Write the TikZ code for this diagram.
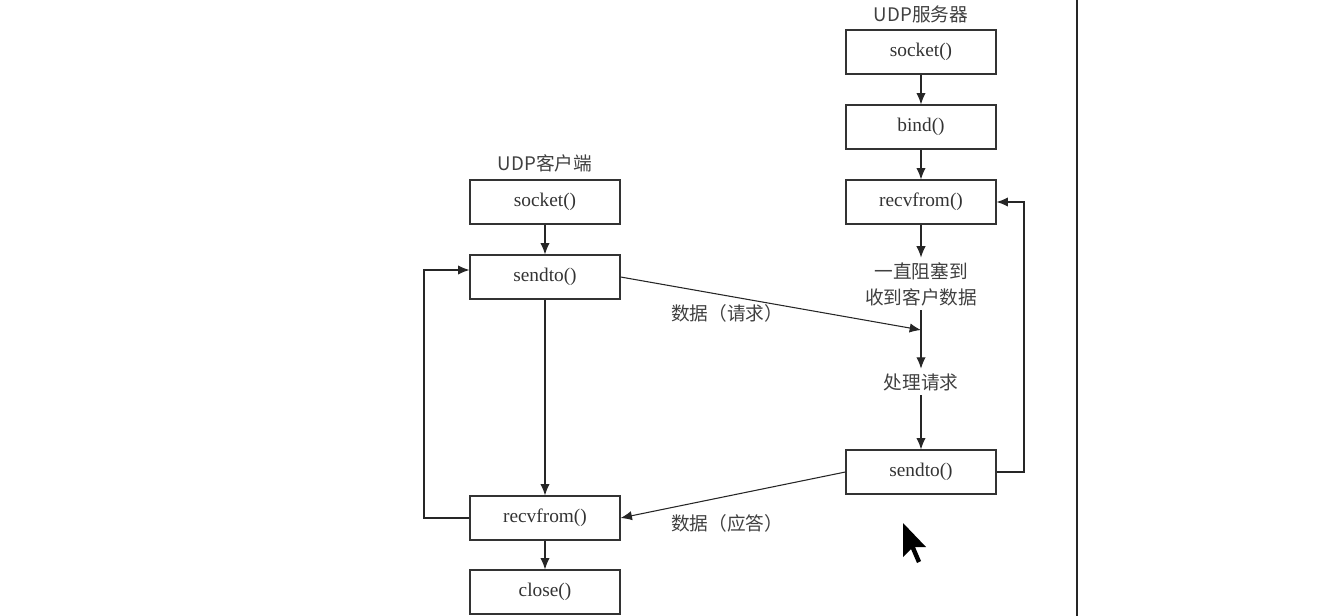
\documentclass[tikz,border=0pt]{standalone}
\usepackage{fontspec}
\setmainfont{Liberation Serif}
\newfontfamily\cjk{Noto Sans CJK SC}
\usetikzlibrary{arrows.meta}

\begin{document}
\begin{tikzpicture}[x=0.75pt,y=-0.75pt,
    box/.style={draw=black!80,line width=0.9pt,minimum width=112.5pt,minimum height=33pt,
      inner sep=0pt,text=black!80,font=\fontsize{14.5}{16}\selectfont},
    lbl/.style={text=black!75,font=\cjk\fontsize{14}{19.5}\selectfont},
    arr/.style={draw=black!85,line width=0.8pt,-{Latex[length=8.5pt,width=7pt]}}]
    \useasboundingbox (0,0) rectangle (1332,616);
    % client side
    \node[lbl] (ctitle) at (545,163) {UDP客户端};
    \foreach \n/\y/\t in {csock/202/socket(), csend/277/sendto(), crecv/518/recvfrom(), cclose/592/close()}{
      \node[box] (\n) at (545,\y) {\t};
    }
    % server side
    \node[lbl] (stitle) at (921,14) {UDP服务器};
    \foreach \n/\y/\t in {ssock/52/socket(), sbind/127/bind(), srecv/202/recvfrom(), ssend/472/sendto()}{
      \node[box] (\n) at (921,\y) {\t};
    }
    \node[lbl,align=center] (wait) at (921,284) {一直阻塞到\\收到客户数据};
    \node[lbl] (proc) at (921,382) {处理请求};
    \node[lbl] (req) at (727,313) {数据（请求）};
    \node[lbl] (ans) at (727,523) {数据（应答）};
    \coordinate (cloop) at (424,270);
    \coordinate (sloop) at (1024,202);
    \coordinate (hit) at (921,330);

    \draw[arr] (csock) -- (csend);
    \draw[arr] (csend) -- (crecv);
    \draw[arr] (crecv) -- (cclose);
    \draw[arr] (crecv.west) -| (cloop) -- (cloop -| csend.west);
    \draw[arr] (ssock) -- (sbind);
    \draw[arr] (sbind) -- (srecv);
    \draw[arr] (srecv) -- (wait);
    \draw[arr] (wait) -- (proc);
    \draw[arr] (proc) -- (ssend);
    \draw[arr] (ssend.east) -| (sloop) -- (srecv.east);
    \draw[arr] (csend.east) -- (hit);
    \draw[arr] (ssend.west) -- (crecv.east);

    % screen edge and pointer
    \draw[line width=2.2pt,black!85] (1077,0) -- (1077,616);
    \fill[black] (903,523) -- ++(0,34) -- ++(8,-8) -- ++(6,14) -- ++(4,-2) -- ++(-6,-14) -- ++(11,0) -- cycle;
\end{tikzpicture}
\end{document}
